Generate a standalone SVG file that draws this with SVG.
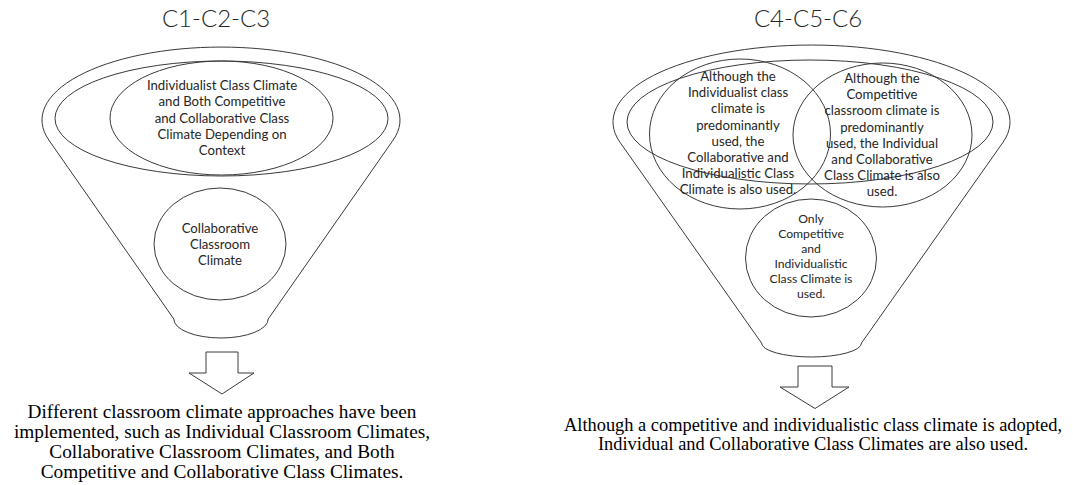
<svg xmlns="http://www.w3.org/2000/svg" width="1073" height="485" viewBox="0 0 1073 485">
<style>
.shape{fill:none;stroke:#3a3a3a;stroke-width:1}
.arrow{fill:#fff;stroke:#3a3a3a;stroke-width:1;stroke-linejoin:miter}
.lbl{font-family:Lato,"Liberation Sans",sans-serif;font-size:13.2px;fill:#262626;text-anchor:middle}
.sm{font-size:12.2px}
.title{font-family:Lato,"Liberation Sans",sans-serif;font-weight:300;font-size:24px;fill:#262626;text-anchor:middle}
.note{font-family:"Liberation Serif","Times New Roman",serif;fill:#000;text-anchor:middle}
.nl{font-size:19.3px}
.nr{font-size:18.4px}
</style>
<rect width="1073" height="485" fill="#fff"/>

<g id="title-left"><text class="title" x="216" y="27">C1-C2-C3</text></g>
<g id="title-right"><text class="title" x="808" y="27">C4-C5-C6</text></g>

<g id="funnel-left">
<path class="shape" d="M48.8,140 A179,73 0 1 1 393.2,140 L268.2,319 A47.2,19 0 0 1 173.8,319 Z"/>
<ellipse class="shape" cx="221.5" cy="118.5" rx="166.5" ry="57.5"/>
</g>
<g id="node-left-top">
<ellipse class="shape" cx="221.5" cy="118" rx="111.5" ry="57"/>
<text class="lbl" x="222" y="90">Individualist Class Climate</text>
<text class="lbl" x="222" y="106.3">and Both Competitive</text>
<text class="lbl" x="222" y="122.6">and Collaborative Class</text>
<text class="lbl" x="222" y="138.9">Climate Depending on</text>
<text class="lbl" x="222" y="155.2">Context</text>
</g>
<g id="node-left-bottom">
<ellipse class="shape" cx="220" cy="244" rx="66" ry="56"/>
<text class="lbl" x="220" y="233">Collaborative</text>
<text class="lbl" x="220" y="249">Classroom</text>
<text class="lbl" x="220" y="265">Climate</text>
</g>

<g id="funnel-right">
<path class="shape" d="M620,142.3 A198.5,77 0 1 1 1003,142.3 L861.5,343 A50,14 0 0 1 761.5,343 Z"/>
<ellipse class="shape" cx="810" cy="122" rx="183" ry="62"/>
</g>
<g id="node-right-left">
<ellipse class="shape" cx="740" cy="134" rx="90.5" ry="75"/>
<text class="lbl" x="738" y="81">Although the</text>
<text class="lbl" x="738" y="97.2">Individualist class</text>
<text class="lbl" x="738" y="113.4">climate is</text>
<text class="lbl" x="738" y="129.6">predominantly</text>
<text class="lbl" x="738" y="145.8">used, the</text>
<text class="lbl" x="738" y="162">Collaborative and</text>
<text class="lbl" x="738" y="178.2">Individualistic Class</text>
<text class="lbl" x="738" y="194.4">Climate is also used.</text>
</g>
<g id="node-right-right">
<ellipse class="shape" cx="882.5" cy="135" rx="89.5" ry="72"/>
<text class="lbl" x="882" y="83">Although the</text>
<text class="lbl" x="882" y="99.2">Competitive</text>
<text class="lbl" x="882" y="115.4">classroom climate is</text>
<text class="lbl" x="882" y="131.6">predominantly</text>
<text class="lbl" x="882" y="147.8">used, the Individual</text>
<text class="lbl" x="882" y="164">and Collaborative</text>
<text class="lbl" x="882" y="180.2">Class Climate is also</text>
<text class="lbl" x="882" y="196.4">used.</text>
</g>
<g id="node-right-bottom">
<ellipse class="shape" cx="811" cy="258" rx="65.5" ry="59"/>
<text class="lbl sm" x="811" y="223">Only</text>
<text class="lbl sm" x="811" y="237.9">Competitive</text>
<text class="lbl sm" x="811" y="252.8">and</text>
<text class="lbl sm" x="811" y="267.7">Individualistic</text>
<text class="lbl sm" x="811" y="282.6">Class Climate is</text>
<text class="lbl sm" x="811" y="297.5">used.</text>
</g>

<g id="connectors">
<path class="arrow" d="M206,352 H238 V373 H254 L222,394 L189,373 H206 Z"/>
<path class="arrow" d="M798,366 H832 V387 H849 L815,408.5 L780,387 H798 Z"/>
</g>

<g id="note-left">
<text class="note nl" x="222" y="418">Different classroom climate approaches have been</text>
<text class="note nl" x="222" y="438">implemented, such as Individual Classroom Climates,</text>
<text class="note nl" x="222" y="458">Collaborative Classroom Climates, and Both</text>
<text class="note nl" x="222" y="478">Competitive and Collaborative Class Climates.</text>
</g>
<g id="note-right">
<text class="note nr" x="813" y="431">Although a competitive and individualistic class climate is adopted,</text>
<text class="note nr" x="813" y="450">Individual and Collaborative Class Climates are also used.</text>
</g>
</svg>
